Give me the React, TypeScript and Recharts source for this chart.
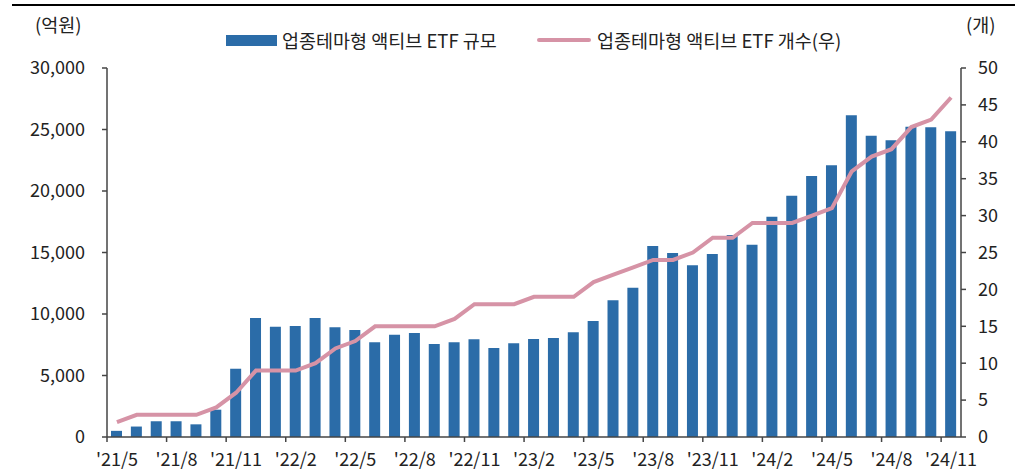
import { ComposedChart, Bar, Line, XAxis, YAxis } from 'recharts'

const months = [
  "'21/5", "'21/6", "'21/7", "'21/8", "'21/9", "'21/10", "'21/11", "'21/12",
  "'22/1", "'22/2", "'22/3", "'22/4", "'22/5", "'22/6", "'22/7", "'22/8", "'22/9", "'22/10", "'22/11", "'22/12",
  "'23/1", "'23/2", "'23/3", "'23/4", "'23/5", "'23/6", "'23/7", "'23/8", "'23/9", "'23/10", "'23/11", "'23/12",
  "'24/1", "'24/2", "'24/3", "'24/4", "'24/5", "'24/6", "'24/7", "'24/8", "'24/9", "'24/10", "'24/11",
]

// 업종테마형 액티브 ETF 규모 (억원)
const aum = [
  500, 850, 1280, 1280, 1030, 2220, 5550, 9680,
  8970, 9020, 9680, 8920, 8700, 7700, 8320, 8450, 7560, 7700, 7940, 7240,
  7620, 7970, 8050, 8510, 9430, 11110, 12140, 15530, 14960, 13960, 14880, 16420,
  15630, 17910, 19620, 21220, 22090, 26150, 24500, 24120, 25230, 25180, 24850,
]

// 업종테마형 액티브 ETF 개수 (개)
const counts = [
  2, 3, 3, 3, 3, 4, 6, 9,
  9, 9, 10, 12, 13, 15, 15, 15, 15, 16, 18, 18,
  18, 19, 19, 19, 21, 22, 23, 24, 24, 25, 27, 27,
  29, 29, 29, 30, 31, 36, 38, 39, 42, 43, 46,
]

const leftTicks = [0, 5000, 10000, 15000, 20000, 25000, 30000]
const rightTicks = [0, 5, 10, 15, 20, 25, 30, 35, 40, 45, 50]

const data = months.map((m, i) => ({ month: m, aum: aum[i], count: counts[i] }))

const BLUE = '#2B6CA8'
const PINK = '#D693A6'
const AXIS = '#444'
const FONT = '"Noto Sans CJK KR", "Noto Sans", sans-serif'

const plotLeft = 107
const plotRight = 961
const band = (plotRight - plotLeft) / months.length

function MonthTick(props: any) {
  const { x, y, payload } = props
  return (
    <g>
      <line x1={x - band / 2} x2={x - band / 2} y1={y} y2={y + 5} stroke={AXIS} strokeWidth={1.5} />
      <text x={x} y={y + 29} textAnchor="middle" fill="#222" fontSize={18} fontFamily={FONT}>
        {payload.value}
      </text>
    </g>
  )
}

export default function App() {
  const tickStyle = { fill: '#222', fontSize: 18, fontFamily: FONT }
  return (
    <div style={{ position: 'absolute', left: 0, top: 0, width: 1023, height: 476, background: '#fff', fontFamily: FONT }}>
      <div style={{ position: 'absolute', left: 12, top: 4, width: 1003, height: 2, background: '#000' }} />
      <div style={{ position: 'absolute', left: 35, top: 11, fontSize: 18.5, color: '#222' }}>(억원)</div>
      <div style={{ position: 'absolute', left: 966, top: 11, fontSize: 18.5, color: '#222' }}>(개)</div>

      <div style={{ position: 'absolute', left: 226, top: 35, width: 51, height: 11, background: BLUE }} />
      <div style={{ position: 'absolute', left: 282, top: 27, fontSize: 18.5, color: '#222', whiteSpace: 'nowrap' }}>
        업종테마형 액티브 ETF 규모
      </div>
      <div style={{ position: 'absolute', left: 537, top: 38, width: 54, height: 4, background: PINK, borderRadius: 2 }} />
      <div style={{ position: 'absolute', left: 597, top: 27, fontSize: 18.5, color: '#222', whiteSpace: 'nowrap' }}>
        업종테마형 액티브 ETF 개수(우)
      </div>

      <ComposedChart
        width={1023}
        height={476}
        data={data}
        margin={{ top: 68, right: 7, left: 7, bottom: 4 }}
        style={{ position: 'absolute', left: 0, top: 0 }}
      >
        <XAxis
          dataKey="month"
          interval={2}
          height={35}
          tickSize={0}
          tickMargin={0}
          tickLine={false}
          axisLine={{ stroke: AXIS, strokeWidth: 1.5 }}
          tick={<MonthTick />}
        />
        <YAxis
          yAxisId="left"
          width={100}
          domain={[0, 30000]}
          ticks={leftTicks}
          tickFormatter={(v: number) => v.toLocaleString('en-US')}
          tick={tickStyle}
          tickSize={5}
          tickMargin={17}
          axisLine={{ stroke: AXIS, strokeWidth: 1.5 }}
          tickLine={{ stroke: AXIS, strokeWidth: 1.5 }}
        />
        <YAxis
          yAxisId="right"
          orientation="right"
          width={55}
          domain={[0, 50]}
          ticks={rightTicks}
          tick={{ ...tickStyle, textAnchor: 'start' }}
          tickSize={5}
          tickMargin={12}
          axisLine={{ stroke: AXIS, strokeWidth: 1.5 }}
          tickLine={{ stroke: AXIS, strokeWidth: 1.5 }}
        />
        <Bar yAxisId="left" dataKey="aum" fill={BLUE} barSize={11} isAnimationActive={false} />
        <Line
          yAxisId="right"
          type="linear"
          dataKey="count"
          stroke={PINK}
          strokeWidth={4}
          dot={false}
          activeDot={false}
          isAnimationActive={false}
        />
      </ComposedChart>
    </div>
  )
}
